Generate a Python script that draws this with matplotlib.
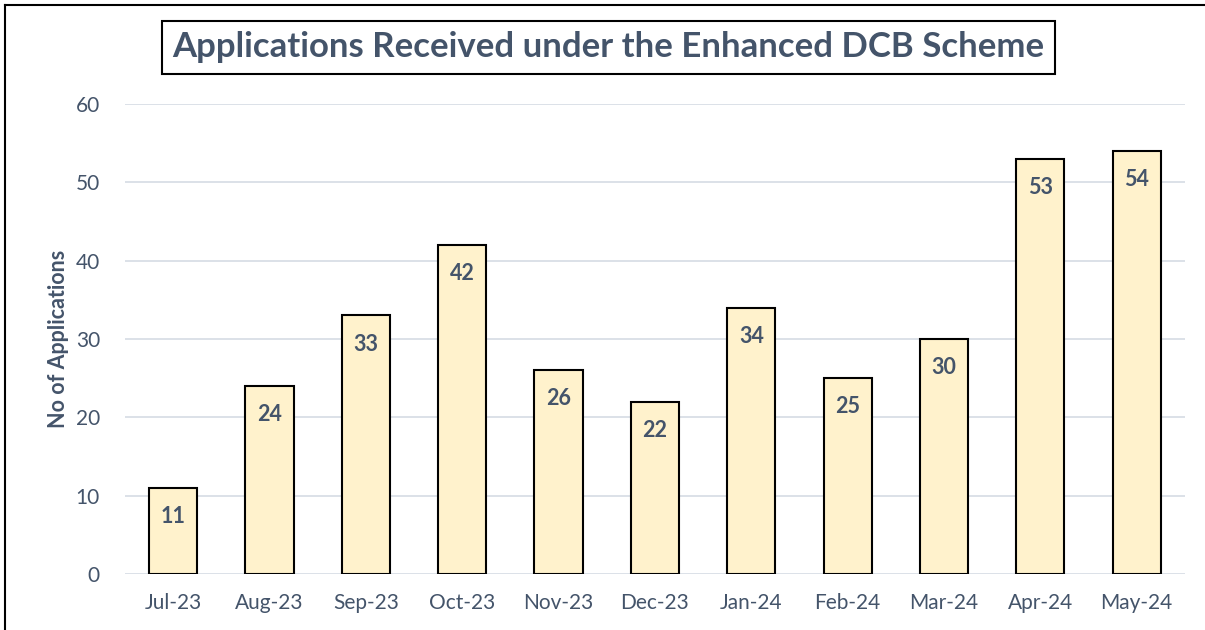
"""Bar chart: applications received under the Enhanced DCB Scheme."""

import matplotlib

matplotlib.use("Agg")
import matplotlib.pyplot as plt
from matplotlib.lines import Line2D

months = ["Jul-23", "Aug-23", "Sep-23", "Oct-23", "Nov-23", "Dec-23",
          "Jan-24", "Feb-24", "Mar-24", "Apr-24", "May-24"]
applications = [11, 24, 33, 42, 26, 22, 34, 25, 30, 53, 54]
y_ticks = [0, 10, 20, 30, 40, 50, 60]

TEXT = "#44546A"
plt.rcParams["font.family"] = ["Lato", "DejaVu Sans"]

fig = plt.figure(figsize=(12.05, 6.3), dpi=100)
ax = fig.add_axes([0.1037, 0.0889, 0.8796, 0.7461])

x = list(range(len(months)))
bars = ax.bar(x, applications, width=0.5, color="#FFF2CC",
              edgecolor="black", linewidth=1.5, zorder=3)

for b, v in zip(bars, applications):
    ax.annotate(str(v), (b.get_x() + b.get_width() / 2, v),
                xytext=(0, -13), textcoords="offset points",
                ha="center", va="top", fontsize=15.5, fontweight="bold",
                color=TEXT, zorder=4)

ax.set_xlim(-0.5, len(months) - 0.5)
ax.set_ylim(0, 60)
ax.set_yticks(y_ticks)
ax.set_xticks(x)
ax.set_xticklabels(months)
ax.tick_params(axis="both", length=0, labelsize=15, colors=TEXT)
ax.tick_params(axis="x", pad=14)
ax.tick_params(axis="y", pad=18)
ax.grid(True, axis="y", color="#D9DEE6", linewidth=1.3, zorder=0)
for s in ax.spines.values():
    s.set_visible(False)

ax.set_ylabel("No of Applications", fontsize=15.5, fontweight="bold",
              color=TEXT, labelpad=5)

fig.text(0.5046, 0.925, "Applications Received under the Enhanced DCB Scheme",
         ha="center", va="center", fontsize=25, fontweight="bold", color=TEXT,
         bbox=dict(boxstyle="square,pad=0.3", facecolor="white",
                   edgecolor="black", linewidth=1.5))

# outer frame (top and left edges)
fig.add_artist(Line2D([0.004, 0.999], [0.992, 0.992], color="black",
                      linewidth=1.5, transform=fig.transFigure))
fig.add_artist(Line2D([0.004, 0.004], [0.0, 0.992], color="black",
                      linewidth=1.5, transform=fig.transFigure))

fig.savefig("out.png", dpi=100)
